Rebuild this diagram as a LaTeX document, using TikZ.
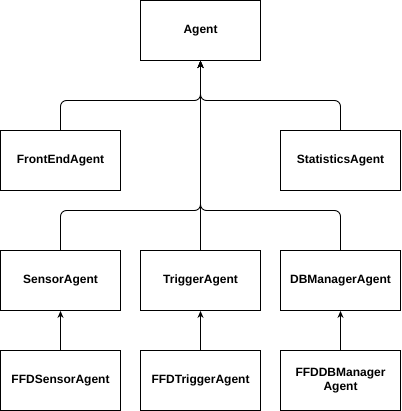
\documentclass[tikz,border=0pt]{standalone}
\usepackage{fontspec}
\setmainfont{Liberation Sans}
\usetikzlibrary{arrows.meta, positioning}

\begin{document}
\begin{tikzpicture}[
    x=1pt, y=-1pt,
    agentbox/.style={rectangle, draw=black, line width=0.9pt, minimum width=120pt, minimum height=60pt, inner sep=0pt, align=center, font=\fontsize{12}{14}\selectfont\bfseries},
    arrow/.style={-{Stealth[length=7pt, width=6pt]}, line width=0.9pt, rounded corners=6pt}
]
\useasboundingbox (0,0) rectangle (401,411);

% Base class
\node[agentbox] (agent) at (200.5, 30.5) {Agent};

% Second row
\node[agentbox] (frontend) at (60.5, 160.5) {FrontEndAgent};
\node[agentbox] (statistics) at (340.5, 160.5) {StatisticsAgent};

% Third row
\node[agentbox] (sensor) at (60.5, 280.5) {SensorAgent};
\node[agentbox] (trigger) at (200.5, 280.5) {TriggerAgent};
\node[agentbox] (dbmanager) at (340.5, 280.5) {DBManagerAgent};

% Fourth row
\node[agentbox] (ffdsensor) at (60.5, 380.5) {FFDSensorAgent};
\node[agentbox] (ffdtrigger) at (200.5, 380.5) {FFDTriggerAgent};
\node[agentbox] (ffddbmanager) at (340.5, 380.5) {FFDDBManager\\Agent};

% Junctions
\coordinate (upper) at (200.5, 100.5);
\coordinate (lower) at (200.5, 210.5);

% Inheritance arrows
\draw[arrow] (frontend.north) |- (upper) -- (agent.south);
\draw[arrow] (statistics.north) |- (upper) -- (agent.south);
\draw[arrow] (sensor.north) |- (lower) -- (agent.south);
\draw[arrow] (dbmanager.north) |- (lower) -- (agent.south);
\draw[arrow] (trigger.north) -- (agent.south);
\draw[arrow] (ffdsensor.north) -- (sensor.south);
\draw[arrow] (ffdtrigger.north) -- (trigger.south);
\draw[arrow] (ffddbmanager.north) -- (dbmanager.south);

\end{tikzpicture}
\end{document}
